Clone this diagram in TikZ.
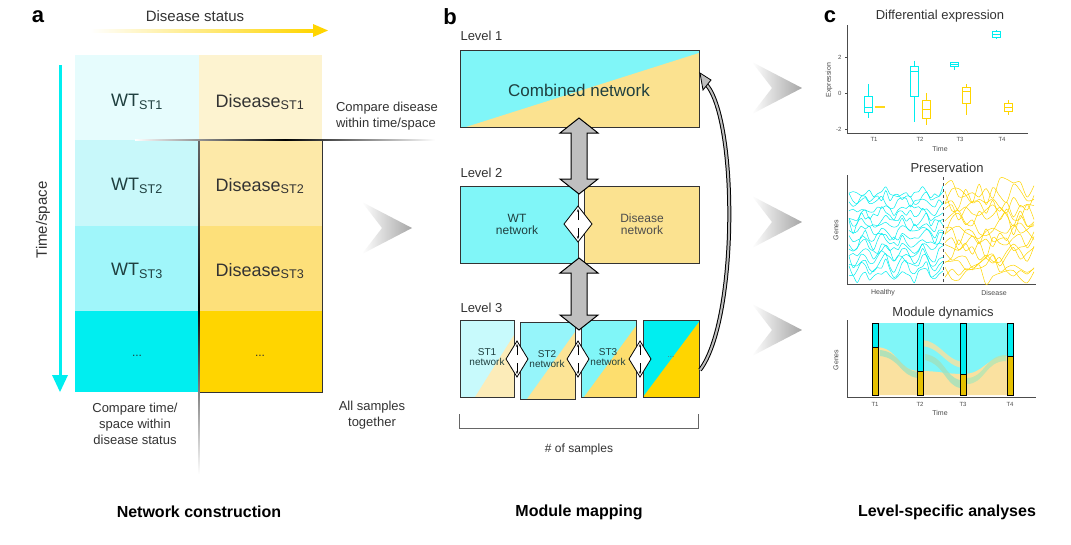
\documentclass[tikz,border=0pt]{standalone}
\usepackage{fontspec}
\setmainfont{Liberation Sans}
\usetikzlibrary{arrows.meta,calc}
\definecolor{cy}{HTML}{00EEF0}
\definecolor{cyl}{HTML}{80F6F8}
\definecolor{gd}{HTML}{FFD500}
\definecolor{yl}{HTML}{FBE290}
\definecolor{dtxt}{HTML}{1F3F3F}
\definecolor{ca1}{RGB}{230,252,253}
\definecolor{ca2}{RGB}{200,248,250}
\definecolor{ca3}{RGB}{160,246,250}
\definecolor{ya1}{RGB}{253,243,208}
\definecolor{ya2}{RGB}{253,233,168}
\definecolor{ya3}{RGB}{253,224,122}
\definecolor{cb1}{RGB}{200,250,252}
\definecolor{yb1}{RGB}{252,236,185}
\definecolor{cb2}{RGB}{150,245,250}
\definecolor{yb2}{RGB}{252,228,150}
\definecolor{yb3}{RGB}{253,222,110}
\definecolor{fy}{RGB}{250,225,160}
\definecolor{fg1}{RGB}{160,225,190}
\definecolor{fg2}{RGB}{180,230,180}
\tikzset{
 fs/.style={font=\fontsize{#1}{#1}\selectfont},
 fsl/.style={font=\fontsize{13}{16}\selectfont,text=black!80},
 lbl/.style={font=\bfseries\fontsize{22}{22}\selectfont},
 ttl/.style={font=\bfseries\fontsize{16}{16}\selectfont},
 box/.style={draw=black!80,line width=0.8pt},
 dbl/.style={fill=black!25,draw=black,line width=1pt},
 dia/.style={fill=white,draw=black,line width=0.8pt},
 chev/.style={left color=white,right color=black!35},
 ax/.style={draw=black!70,line width=0.8pt},
 tick/.style={fs=6,text=black!70},
}
\newcommand\dblarrow[3]{\path[dbl] (#1,#2) -- ({#1+19},{#2+15}) -- ({#1+8},{#2+15}) -- ({#1+8},{#3-15}) -- ({#1+19},{#3-15}) -- (#1,#3) -- ({#1-19},{#3-15}) -- ({#1-8},{#3-15}) -- ({#1-8},{#2+15}) -- ({#1-19},{#2+15}) -- cycle;}
\newcommand\chevron[2]{\path[chev] (#1,{#2-26}) -- ({#1+50},#2) -- (#1,{#2+26}) -- ({#1+20},#2) -- cycle;}
\newcommand\diam[3]{\path[dia] (#1,{#2-18}) -- ({#1+#3},#2) -- (#1,{#2+18}) -- ({#1-#3},#2) -- cycle;
 \draw[-{Stealth[length=3pt]},line width=0.5pt] (#1,{#2-4}) -- (#1,{#2-15});\draw[-{Stealth[length=3pt]},line width=0.5pt] (#1,{#2+4}) -- (#1,{#2+15});}
\newcommand\bp[7]{\draw[#7,line width=0.8pt] (#1,{93-18*#2}) -- (#1,{93-18*#3}) (#1,{93-18*#5}) -- (#1,{93-18*#6});
 \draw[#7,line width=0.8pt] ({#1-4},{93-18*#3}) rectangle ({#1+4},{93-18*#5}); \draw[#7,line width=1pt] ({#1-4},{93-18*#4}) -- ({#1+4},{93-18*#4});}
\begin{document}
\begin{tikzpicture}[x=1pt,y=-1pt]
\useasboundingbox[fill=white] (0,0) rectangle (1071,544);
% ---------------- panel a
\node[lbl] (la) at (38,17) {a};
\node[fs=15,text=black!80] (ds) at (195,16) {Disease status};
\shade[left color=white,right color=gd] (90,29) rectangle (315,32);
\fill[gd] (313,24) -- (328,30.5) -- (313,37) -- cycle;
\fill[cy] (58.5,65) rectangle (61.5,378);
\fill[cy] (52,375) -- (60,392) -- (68,375) -- cycle;
\node[fs=15,text=black!80,rotate=90] (ts) at (43,220) {Time/space};
\fill[ca1] (75,55) rectangle (199,140);
\fill[ca2] (75,140) rectangle (199,226);
\fill[ca3] (75,226) rectangle (199,311);
\fill[cy] (75,311) rectangle (199,392);
\fill[ya1] (199,55) rectangle (322,140);
\fill[ya2] (199,140) rectangle (322,226);
\fill[ya3] (199,226) rectangle (322,311);
\fill[gd] (199,311) rectangle (322,392);
\draw[black!80,line width=0.7pt] (322,140) -- (322,392) -- (199,392);
\shade[top color=black!60,bottom color=white,middle color=black] (198.4,140) rectangle (199.6,474);
\shade[left color=white,right color=white,middle color=black] (135,139.4) rectangle (435,140.6);
\node[fs=18,text=dtxt] (w1) at (137,102) {WT\textsubscript{ST1}};
\node[fs=18,text=dtxt] (w2) at (137,186) {WT\textsubscript{ST2}};
\node[fs=18,text=dtxt] (w3) at (137,271) {WT\textsubscript{ST3}};
\node[fs=12,text=dtxt] (w4) at (137,356) {...};
\node[fs=18,text=black!80] (d1) at (260,102) {Disease\textsubscript{ST1}};
\node[fs=18,text=black!80] (d2) at (260,186) {Disease\textsubscript{ST2}};
\node[fs=18,text=black!80] (d3) at (260,271) {Disease\textsubscript{ST3}};
\node[fs=12,text=black!80] (d4) at (260,356) {...};
\node[fsl,align=left] (cd) at (387,116) {Compare disease\\within time/space};
\node[fsl,align=center] (ct) at (135,424) {Compare time/\\space within\\disease status};
\node[fsl,align=center] (as) at (372,415) {All samples\\together};
\chevron{362}{228}
\node[ttl] (t1) at (199,512) {Network construction};
% ---------------- panel b
\node[lbl] (lb) at (450,17) {b};
\node[fs=13,anchor=west,text=black!80] (l1) at (457,36) {Level 1};
\node[fs=13,anchor=west,text=black!80] (l2) at (457,173) {Level 2};
\node[fs=13,anchor=west,text=black!80] (l3) at (457,308) {Level 3};
\fill[cyl] (460,50) rectangle (699,127);
\fill[yl] (466,127) -- (699,53) -- (699,127) -- cycle;
\draw[box] (460,50) rectangle (699,127);
\node[fs=17,text=dtxt] (cn) at (579,90) {Combined network};
\fill[cyl] (460,186) rectangle (578,263); \draw[box] (460,186) rectangle (578,263);
\fill[yl] (584,186) rectangle (699,263); \draw[box] (584,186) rectangle (699,263);
\node[fs=12,text=dtxt,align=center] (wn) at (517,224) {WT\\network};
\node[fs=12,text=black!70,align=center] (dn) at (642,224) {Disease\\network};
% level 3
\fill[cb1] (460,320) rectangle (514,397);
\fill[yb1] (475,397) -- (514,335) -- (514,397) -- cycle;
\draw[box] (460,320) rectangle (514,397);
\fill[cb2] (520,322) rectangle (575,399);
\fill[yb2] (527,399) -- (575,332) -- (575,399) -- cycle;
\draw[box] (520,322) rectangle (575,399);
\fill[cyl] (581,320) rectangle (636,397);
\fill[yb3] (584,397) -- (636,326) -- (636,397) -- cycle;
\draw[box] (581,320) rectangle (636,397);
\fill[cy] (643,320) rectangle (699,397);
\fill[gd] (643,397) -- (699,322) -- (699,397) -- cycle;
\draw[box] (643,320) rectangle (699,397);
\node[fs=10,text=dtxt,align=center] (s1) at (487,357) {ST1\\network};
\node[fs=10,text=dtxt,align=center] (s2) at (547,359) {ST2\\network};
\node[fs=10,text=dtxt,align=center] (s3) at (608,357) {ST3\\network};
\node[fs=8,text=black!60] (s4) at (671,357) {...};
\dblarrow{579}{118}{194}
\dblarrow{579}{258}{330}
\diam{578}{224}{14}
\diam{517}{359}{11}
\diam{578}{359}{11}
\diam{640}{359}{11}
\draw[line width=4pt,black] (700,370) .. controls (738,320) and (738,120) .. (706,84);
\draw[line width=2pt,black!25] (700,370) .. controls (738,320) and (738,120) .. (706,84);
\path[fill=black!25,draw=black,line width=0.8pt] (700,73) -- (711,80) -- (703,90) -- cycle;
\draw[black!60,line width=0.8pt] (459,414) -- (459,428) -- (698,428) -- (698,414);
\node[fs=12,text=black!80] (ns) at (579,449) {\# of samples};
\node[ttl] (t2) at (579,512) {Module mapping};
\chevron{752}{88}
\chevron{752}{222}
\chevron{752}{330}
% ---------------- panel c
\node[lbl] (lc) at (830,17) {c};
\node[fs=13,text=black!80] (de) at (940,16) {Differential expression};
\draw[ax] (847,25) -- (847,133) -- (1028,133);
\foreach \v/\t in {2/2,0/0,-2/-2}{\draw[ax,line width=0.5pt] (845,{93-18*\v}) -- (847,{93-18*\v}); \node[tick,anchor=east] at (845,{93-18*\v}) {\t};}
\foreach \x/\t in {874/T1,920/T2,960/T3,1002/T4}{\node[tick] at (\x,139) {\t};}
\node[fs=7,text=black!70] (tm1) at (940,149) {Time};
\node[fs=7,text=black!70,rotate=90] (ex) at (829,80) {Expression};
\bp{868}{0.5}{-0.2}{-0.8}{-1.1}{-1.4}{cy}
\draw[gd!90,line width=2pt] (875,{93+18*0.8}) -- (885,{93+18*0.8});
\bp{914}{1.8}{1.5}{1.2}{-0.2}{-1.6}{cy}
\bp{926}{0}{-0.4}{-0.9}{-1.4}{-1.8}{gd}
\bp{954}{1.7}{1.7}{1.6}{1.5}{1.3}{cy}
\bp{966}{0.5}{0.3}{0.1}{-0.6}{-1.2}{gd}
\bp{996}{3.5}{3.4}{3.25}{3.1}{3.0}{cy}
\bp{1008}{-0.4}{-0.6}{-0.8}{-1.0}{-1.2}{gd}
% preservation
\node[fs=13,text=black!80] (pr) at (947,168) {Preservation};
\draw[ax] (847,175) -- (847,284) -- (1036,284);
\draw[black!70,dashed,line width=0.8pt] (943,177) -- (943,284);
\node[tick,fs=7] (hl) at (883,293) {Healthy};
\node[tick,fs=7] (ds2) at (994,293) {Disease};
\node[fs=7,text=black!70,rotate=90] (gn1) at (836,230) {Genes};
\pgfmathsetseed{7}
\foreach \k in {0,...,15}{
  \pgfmathsetmacro{\b}{192+\k*5.5}
  \draw[cy,line width=0.5pt] plot[smooth,samples=24,domain=0:94] ({849+\x},{\b+(2+\k*0.3)*sin(\x*18)+5*rand});
}
\foreach \k in {0,...,15}{
  \pgfmathsetmacro{\b}{190+\k*5.6}
  \draw[gd,line width=0.5pt] plot[smooth,samples=14,domain=0:89] ({945+\x},{\b+12*rand});
}
% module dynamics
\node[fs=13,text=black!80] (md) at (943,313) {Module dynamics};
\fill[cyl] (875,323) rectangle (1010,395);
\fill[fy] (875,347) .. controls (900,347) and (895,371) .. (920,371) -- (920,395) -- (875,395) -- cycle;
\fill[fy] (920,371) .. controls (940,371) and (945,374) .. (963,374) -- (963,395) -- (920,395) -- cycle;
\fill[fy] (963,374) .. controls (985,374) and (985,356) .. (1010,356) -- (1010,395) -- (963,395) -- cycle;
\fill[fy,opacity=0.8] (920,340) .. controls (940,340) and (945,360) .. (963,362) -- (963,368) .. controls (945,366) and (940,346) .. (920,346) -- cycle;
\fill[fg1,opacity=0.8] (880,350) .. controls (900,352) and (900,370) .. (918,372) -- (918,378) .. controls (900,376) and (900,358) .. (880,356) -- cycle;
\fill[fg1,opacity=0.8] (925,360) .. controls (945,365) and (945,385) .. (960,388) -- (960,380) .. controls (945,377) and (945,357) .. (925,354) -- cycle;
\fill[fg2,opacity=0.8] (967,378) .. controls (985,378) and (985,355) .. (1006,355) -- (1006,361) .. controls (985,361) and (985,384) .. (967,384) -- cycle;
\foreach \x/\m in {875/347,920/371,963/374,1010/356}{
  \path[fill=cy,draw=black,line width=0.5pt] ({\x-3},323) rectangle ({\x+3},\m);
  \path[fill=gd!90!black,draw=black,line width=0.5pt] ({\x-3},\m) rectangle ({\x+3},395);
}
\draw[ax] (847,320) -- (847,397) -- (1036,397);
\foreach \x/\t in {875/T1,920/T2,963/T3,1010/T4}{\node[tick] at (\x,404) {\t};}
\node[fs=7,text=black!70] (tm2) at (940,413) {Time};
\node[fs=7,text=black!70,rotate=90] (gn2) at (836,360) {Genes};
\node[ttl] (t3) at (947,512) {Level-specific analyses};
\end{tikzpicture}
\end{document}
